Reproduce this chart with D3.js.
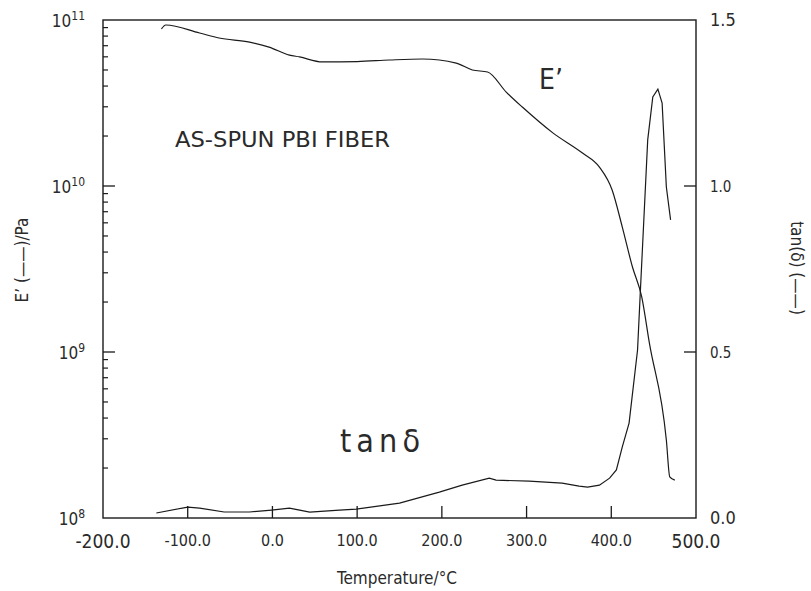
<!DOCTYPE html>
<html><head><meta charset="utf-8">
<script src="https://cdn.jsdelivr.net/npm/d3@7"></script>
<style>
body{margin:0;background:#fff;}
text{font-family:"DejaVu Sans Condensed","Liberation Sans Narrow",Roboto,sans-serif;font-weight:200;fill:#2a2a2a;}
</style></head>
<body><svg id="c" width="811" height="591"></svg>
<script>
// E' (Pa) vs temperature (°C)
const eTemp = [-131,-126,-86,-63,-27,-4,20,32,59,100,138,177,217,236,254,276,295,331,366,386,401,413,425,436,445,465,469,475];
const eMod  = [8.83e10,9.33e10,8.35e10,7.79e10,7.36e10,6.87e10,6.15e10,5.99e10,5.59e10,5.62e10,5.74e10,5.82e10,5.5e10,5.0e10,4.86e10,3.68e10,2.99e10,2.09e10,1.58e10,1.30e10,9.46e9,5.66e9,3.25e9,2.14e9,1.13e9,2.95e8,1.77e8,1.69e8];
// tan delta vs temperature (°C)
const tTemp = [-137,-100,-86,-57,-27,-1,20,44,79,99,150,197,224,256,264,303,342,362,372,386,398,406,413,421,431,434,443,449,455,460,465,470];
const tanD  = [0.015,0.033,0.030,0.018,0.018,0.024,0.030,0.018,0.024,0.027,0.045,0.078,0.099,0.120,0.114,0.111,0.105,0.096,0.093,0.099,0.120,0.145,0.214,0.286,0.506,0.666,1.139,1.268,1.292,1.250,0.997,0.898];
const xTicks = [-200,-100,0,100,200,300,400,500];
const yLeftExp = [8,9,10,11];
const yRightTicks = [0,0.5,1.0,1.5];

const svg = d3.select("#c");
const L=103,R=696,T=20,B=518;
const x = d3.scaleLinear().domain([-200,500]).range([L,R]);
const yL = d3.scaleLog().domain([1e8,1e11]).range([B,T]);
const yR = d3.scaleLinear().domain([0,1.5]).range([B,T]);
const ink="#1a1a1a";
const fmt = d => d3.format(".1f")(d).replace("−","-");

// frame
svg.append("rect").attr("x",L).attr("y",T).attr("width",R-L).attr("height",B-T)
  .attr("fill","none").attr("stroke",ink).attr("stroke-width",1.4);

// bottom ticks (inward)
const xInner = xTicks.filter(d=>d>-200&&d<500);
svg.append("g").selectAll("line").data(xInner).join("line")
  .attr("x1",d=>x(d)).attr("x2",d=>x(d)).attr("y1",B).attr("y2",B-12)
  .attr("stroke",ink).attr("stroke-width",1.3);
svg.append("g").selectAll("text").data(xTicks).join("text")
  .attr("x",d=>x(d)).attr("y",d=>(d===-200||d===500)?548:546)
  .attr("text-anchor","middle")
  .attr("font-size",d=>(d===-200||d===500)?19:16)
  .text(fmt);

// left log ticks
const minor=[];
yLeftExp.slice(0,-1).forEach(e=>{for(let k=2;k<=9;k++)minor.push(k*Math.pow(10,e));});
svg.append("g").selectAll("line").data(minor).join("line")
  .attr("x1",L).attr("x2",L+5).attr("y1",d=>yL(d)).attr("y2",d=>yL(d))
  .attr("stroke",ink).attr("stroke-width",1.2);
svg.append("g").selectAll("line").data(yLeftExp.slice(1,-1)).join("line")
  .attr("x1",L).attr("x2",L+12).attr("y1",d=>yL(Math.pow(10,d))).attr("y2",d=>yL(Math.pow(10,d)))
  .attr("stroke",ink).attr("stroke-width",1.3);
const lt = svg.append("g").selectAll("text").data(yLeftExp).join("text")
  .attr("x",L-18).attr("y",d=>yL(Math.pow(10,d))+7)
  .attr("text-anchor","end").attr("font-size",17);
lt.append("tspan").text("10");
lt.append("tspan").attr("dy",-7).attr("font-size",12).text(d=>d);

// right ticks
svg.append("g").selectAll("line").data(yRightTicks.filter(d=>d>0&&d<1.5)).join("line")
  .attr("x1",R).attr("x2",R-12).attr("y1",d=>yR(d)).attr("y2",d=>yR(d))
  .attr("stroke",ink).attr("stroke-width",1.3);
svg.append("g").selectAll("text").data(yRightTicks).join("text")
  .attr("x",R+14).attr("y",d=>yR(d)+6)
  .attr("font-size",d=>(d===0||d===1.5)?18:15)
  .text(fmt);

// curves
const lineE = d3.line().x(d=>x(d[0])).y(d=>yL(d[1])).curve(d3.curveMonotoneX);
const lineT = d3.line().x(d=>x(d[0])).y(d=>yR(d[1])).curve(d3.curveLinear);
svg.append("path").attr("d",lineE(eTemp.map((t,i)=>[t,eMod[i]])))
  .attr("fill","none").attr("stroke",ink).attr("stroke-width",1.2);
svg.append("path").attr("d",lineT(tTemp.map((t,i)=>[t,tanD[i]])))
  .attr("fill","none").attr("stroke",ink).attr("stroke-width",1.2);

// annotations
svg.append("text").attr("x",175).attr("y",147).attr("font-size",22)
  .attr("textLength",215).attr("lengthAdjust","spacingAndGlyphs").text("AS-SPUN PBI FIBER");
svg.append("text").attr("x",539).attr("y",89).attr("font-size",28).text("E’");
svg.append("text").attr("x",340).attr("y",452).attr("font-size",32)
  .attr("textLength",80).attr("lengthAdjust","spacing").text("tanδ");

// axis titles
svg.append("text").attr("x",397).attr("y",584).attr("text-anchor","middle").attr("font-size",17)
  .text("Temperature/°C");
svg.append("text").attr("transform","translate(28,260) rotate(-90)").attr("text-anchor","middle")
  .attr("font-size",17).text("E’ (——)/Pa");
svg.append("text").attr("transform","translate(791,268) rotate(90)").attr("text-anchor","middle")
  .attr("font-size",17).text("tan(δ) (——)");
</script></body></html>
